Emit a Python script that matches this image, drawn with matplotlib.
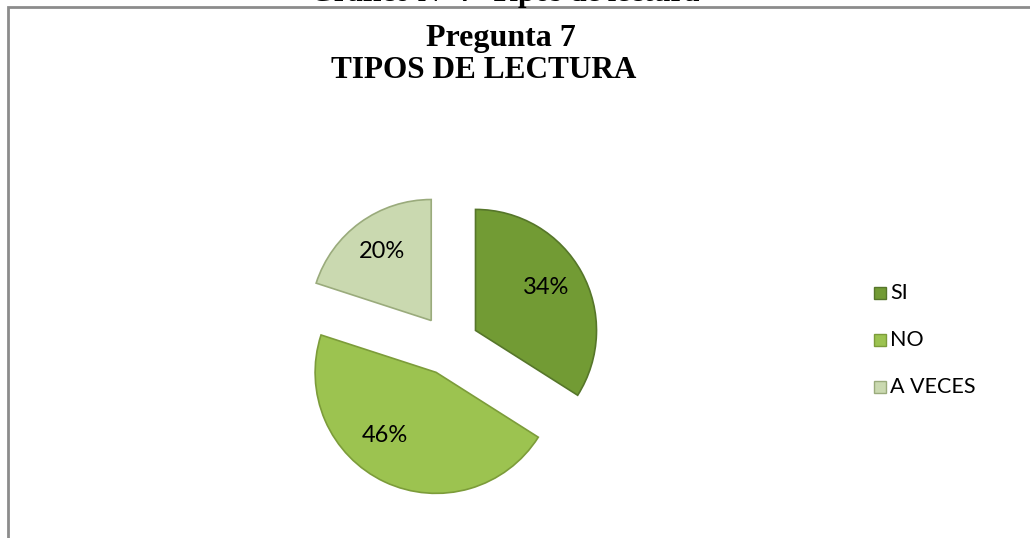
import matplotlib
matplotlib.use('Agg')
import matplotlib.pyplot as plt
from matplotlib.patches import Rectangle

# Data
categories = ['SI', 'NO', 'A VECES']
values = [34, 46, 20]
colors = ['#729b34', '#9cc350', '#cad9b0']
edge_colors = ['#56762a', '#7c9c3a', '#9aab7c']

W, H = 1030, 538
fig = plt.figure(figsize=(W / 100, H / 100), dpi=100)
fig.patch.set_facecolor('white')

# chart frame (top and left edges visible)
frame = Rectangle((8 / W, -0.05), 1.1, (H - 7) / H + 0.05, transform=fig.transFigure,
                  fill=False, edgecolor='#8c8c8c', linewidth=2.0)
fig.patches.append(frame)

# clipped caption above the chart (only its bottom edge shows, as in the source)
fig.text(505 / W, 1 - 1 / H, 'Gráfico N° 7  Tipos de lectura', ha='center', va='baseline',
         fontsize=22, fontweight='bold', family='Liberation Serif')

# titles
fig.text(501 / W, 1 - 46 / H, 'Pregunta 7', ha='center', va='baseline',
         fontsize=23, fontweight='bold', family='Liberation Serif')
fig.text(484 / W, 1 - 78 / H, 'TIPOS DE LECTURA', ha='center', va='baseline',
         fontsize=22.5, fontweight='bold', family='Liberation Serif')

# pie axes: center at (449, 345) px, radius ~121 px
r_px = 121
lim = 1.5
size = 2 * lim * r_px
cx, cy = 449, H - 345
ax = fig.add_axes([(cx - size / 2) / W, (cy - size / 2) / H, size / W, size / H])
wedges, texts = ax.pie(values, colors=colors, startangle=90, counterclock=False,
                       explode=[0.25, 0.25, 0.25], radius=1,
                       wedgeprops=dict(linewidth=1.2))
for w, ec in zip(wedges, edge_colors):
    w.set_edgecolor(ec)
ax.set_xlim(-lim, lim)
ax.set_ylim(-lim, lim)
ax.set_aspect('equal')
ax.axis('off')

# percent labels
label_pos = [(546, 287), (385, 435), (382, 252)]
for (lx, ly), v in zip(label_pos, values):
    fig.text(lx / W, 1 - ly / H, f'{v}%', ha='center', va='center',
             fontsize=17, family='Lato')

# legend
leg_y = [293, 340, 387]
for name, col, ec, ly in zip(categories, colors, edge_colors, leg_y):
    fig.patches.append(Rectangle((874 / W, 1 - (ly + 6) / H), 12 / W, 12 / H,
                                 transform=fig.transFigure, facecolor=col,
                                 edgecolor=ec, linewidth=1))
    fig.text(890 / W, 1 - ly / H, name, ha='left', va='center',
             fontsize=15.5, family='Lato')

fig.savefig('out.png', dpi=100, facecolor='white')
